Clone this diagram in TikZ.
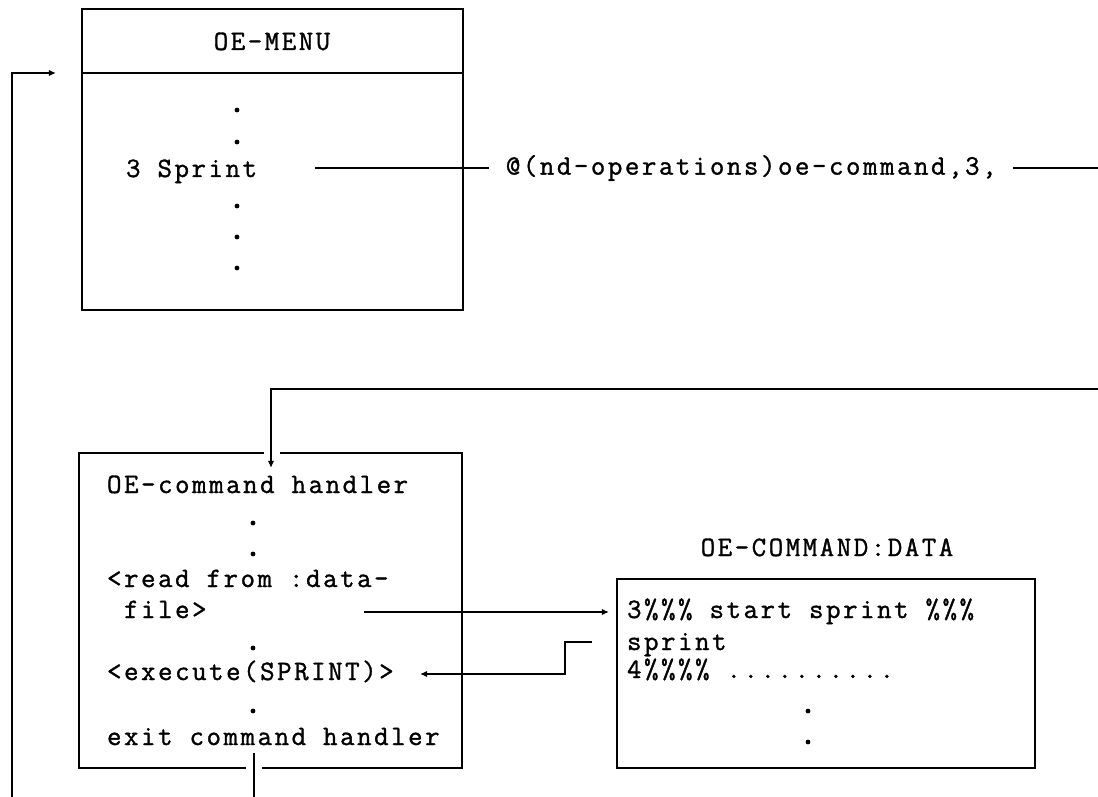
\documentclass[tikz,border=0pt]{standalone}
\usepackage{fontspec}
\newfontfamily\typefont[LetterSpace=9, FakeBold=1.2]{Latin Modern Mono}
\usetikzlibrary{arrows.meta}
\newcommand{\vdot}[2] % x in px, y in px
{
	\fill (#1,#2) circle [radius=2.4];
}
\tikzset{
	box/.style={draw, line width=1.2pt},
	txt/.style={font=\typefont\fontsize{16}{19}\selectfont, inner sep=0pt, anchor=base west},
	>={Latex[length=4pt,width=3.6pt]}
}
\begin{document}
\begin{tikzpicture}[x=0.02cm, y=-0.02cm, line width=1.2pt]
	% 1098 x 797 px, y grows downwards
	\useasboundingbox (0,0) rectangle (1098,797);
	
	% menu
	\draw[box] (82,9) rectangle (463,310);
	\draw[box] (82,73) -- (463,73);
	\node[txt, anchor=base] (menutitle) at (272,50) {OE-MENU};
	\vdot{237}{110};
	\vdot{237}{142};
	\node[txt] (menuitem) at (125,177) {3 Sprint};
	\vdot{237}{206};
	\vdot{237}{237};
	\vdot{237}{268};
	
	\coordinate (sprintout) at (315,168);
	\node[txt, anchor=west, inner xsep=9pt] (cmdlabel) at (489,168) {@(nd-operations)oe-command,3,};
	\coordinate (edgeR) at (1098,168);
	\draw (sprintout) -- (cmdlabel.west);
	\draw (cmdlabel.east) -- (edgeR);
	
	% command handler, gaps in top and bottom edge
	\draw[box] (264,453) -- (79,453) -- (79,768) -- (246,768);
	\draw[box] (262,768) -- (462,768) -- (462,453) -- (280,453);
	\node[txt] (hdlhead) at (106,493) {OE-command handler};
	\vdot{253}{523};
	\vdot{253}{554};
	\node[txt] (hdlread) at (106,587) {<read from :data-};
	\node[txt] (hdlfile) at (123,618) {file>};
	\vdot{253}{648};
	\node[txt] (hdlexec) at (106,680) {<execute(SPRINT)>};
	\vdot{253}{711};
	\node[txt] (hdlexit) at (106,745) {exit command handler};
	
	\coordinate (edgeRlow) at (1098,389);
	\coordinate (hdlin) at (271,468);
	\draw[->] (edgeRlow) -| (hdlin);
	
	% data file
	\node[txt, anchor=base] (datatitle) at (827,556) {OE-COMMAND:DATA};
	\node[box, minimum width=8.36cm, minimum height=3.78cm, inner sep=0pt] (datab) at (826,673.5) {};
	\node[txt] (dataone) at (626,618) {3\%\%\% start sprint \%\%\%};
	\node[txt] (datatwo) at (626,650) {sprint};
	\node[txt] (datathree) at (626,678) {4\%\%\%\% ..........};
	\vdot{808}{711};
	\vdot{808}{742};
	
	\coordinate (readout) at (364,612);
	\draw[->, shorten >=4pt] (readout) -- (readout -| datab.west);
	\coordinate (dataret) at (592,642);
	\coordinate (execin) at (420,674);
	\draw[->] (dataret) -- ++(-27,0) |- (execin);
	
	% back to the menu
	\coordinate (exitout) at (254,753);
	\coordinate (edgeB) at (254,797);
	\draw (exitout) -- (edgeB);
	\coordinate (edgeL) at (12,797);
	\coordinate (menuin) at (56,73);
	\draw[->] (edgeL) |- (menuin);
	
\end{tikzpicture}
\end{document}
